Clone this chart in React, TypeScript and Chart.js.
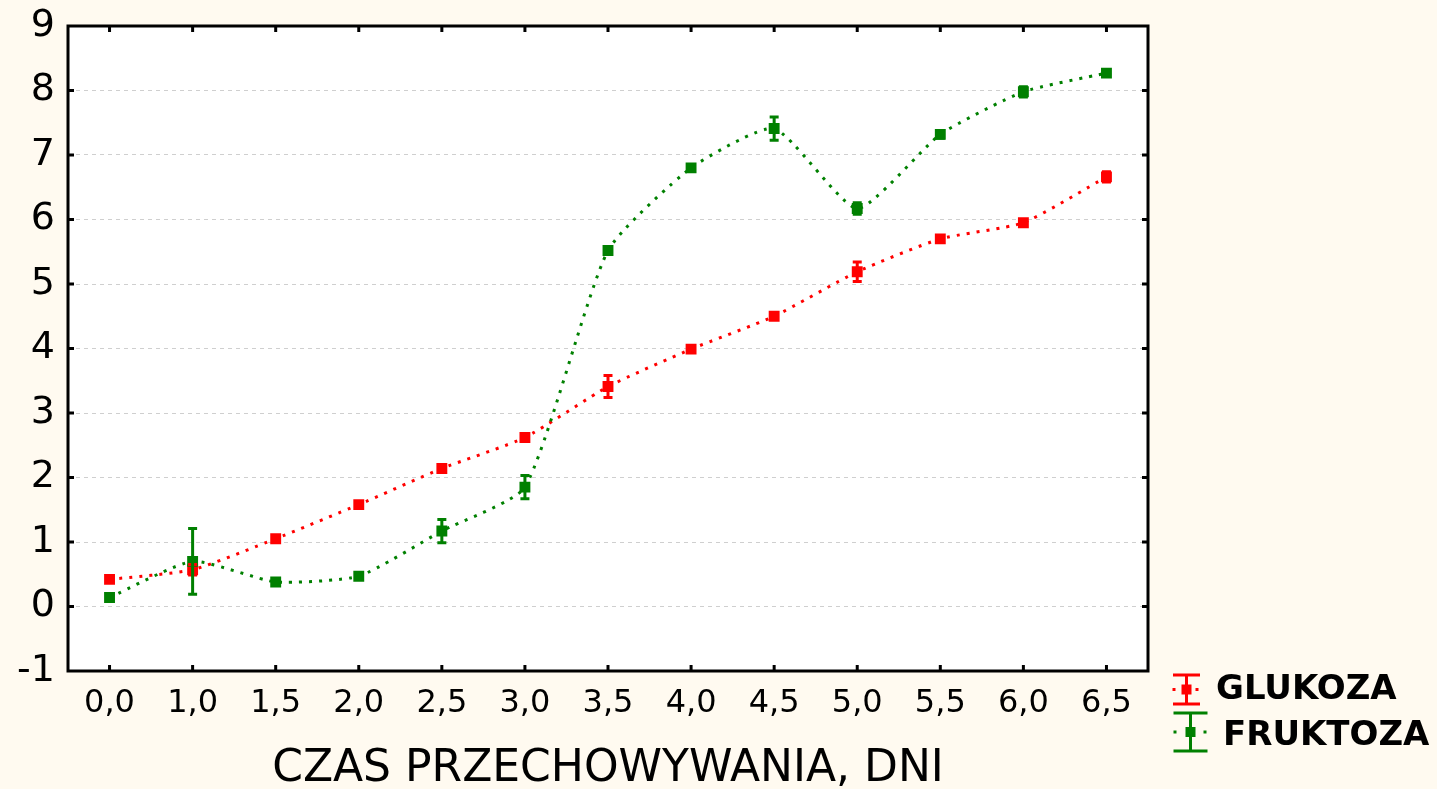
import { useEffect, useRef } from "react";
import { Chart, registerables } from "chart.js";

Chart.register(...registerables);

const categories = ["0,0", "1,0", "1,5", "2,0", "2,5", "3,0", "3,5", "4,0", "4,5", "5,0", "5,5", "6,0", "6,5"];
const glukoza = [0.42, 0.57, 1.05, 1.58, 2.14, 2.62, 3.41, 3.99, 4.5, 5.19, 5.7, 5.95, 6.66];
const glukozaErr = [0.03, 0.08, 0.03, 0.03, 0.04, 0.04, 0.17, 0.05, 0.05, 0.15, 0.05, 0.05, 0.08];
const fruktoza = [0.14, 0.7, 0.38, 0.47, 1.17, 1.85, 5.52, 6.8, 7.41, 6.17, 7.32, 7.98, 8.27];
const fruktozaErr = [0.03, 0.51, 0.03, 0.05, 0.18, 0.18, 0.05, 0.05, 0.18, 0.09, 0.06, 0.08, 0.05];
const yMin = -1;
const yMax = 9;
const yStep = 1;
const xTitle = "CZAS PRZECHOWYWANIA, DNI";
const seriesNames = ["GLUKOZA", "FRUKTOZA"];

const RED = "#FF0000";
const GREEN = "#008000";
const BG = "#FFFAF0";
const FONT = "'DejaVu Sans', 'Liberation Sans', Arial, sans-serif";

const bgPlugin = {
  id: "bgPlugin",
  beforeDraw(chart: any) {
    const { ctx, width, height, chartArea } = chart;
    ctx.save();
    ctx.fillStyle = BG;
    ctx.fillRect(0, 0, width, height);
    ctx.fillStyle = "#FFFFFF";
    ctx.fillRect(chartArea.left, chartArea.top, chartArea.right - chartArea.left, chartArea.bottom - chartArea.top);
    ctx.restore();
  },
};

const errorBarPlugin = {
  id: "errorBarPlugin",
  afterDatasetsDraw(chart: any) {
    const { ctx } = chart;
    const xs = chart.scales.x;
    const ys = chart.scales.y;
    const sets = [
      { vals: glukoza, errs: glukozaErr, color: RED },
      { vals: fruktoza, errs: fruktozaErr, color: GREEN },
    ];
    ctx.save();
    sets.forEach((s) => {
      ctx.strokeStyle = s.color;
      ctx.lineWidth = 3;
      s.vals.forEach((v, i) => {
        const x = xs.getPixelForValue(i);
        const yt = ys.getPixelForValue(v + s.errs[i]);
        const yb = ys.getPixelForValue(v - s.errs[i]);
        ctx.beginPath();
        ctx.moveTo(x, yt);
        ctx.lineTo(x, yb);
        ctx.moveTo(x - 4.5, yt);
        ctx.lineTo(x + 4.5, yt);
        ctx.moveTo(x - 4.5, yb);
        ctx.lineTo(x + 4.5, yb);
        ctx.stroke();
      });
    });
    ctx.restore();
  },
};

const framePlugin = {
  id: "framePlugin",
  afterDraw(chart: any) {
    const { ctx, chartArea } = chart;
    const { left, right, top, bottom } = chartArea;
    const xs = chart.scales.x;
    const ys = chart.scales.y;
    ctx.save();
    ctx.strokeStyle = "#000000";
    ctx.lineWidth = 3;
    ctx.strokeRect(left, top, right - left, bottom - top);
    ctx.beginPath();
    const tl = 6;
    categories.forEach((_, i) => {
      const x = xs.getPixelForValue(i);
      ctx.moveTo(x, top);
      ctx.lineTo(x, top + tl);
      ctx.moveTo(x, bottom);
      ctx.lineTo(x, bottom - tl);
    });
    for (let v = yMin + 1; v < yMax; v += yStep) {
      const y = ys.getPixelForValue(v);
      ctx.moveTo(left, y);
      ctx.lineTo(left + tl, y);
      ctx.moveTo(right, y);
      ctx.lineTo(right - tl, y);
    }
    ctx.stroke();

    // legend
    const items = [
      { name: seriesNames[0], color: RED, cx: 1186.5, yt: 675, yb: 704, half: 13.5, tx: 1216, base: 699, dotL: 1174, dotR: 1197 },
      { name: seriesNames[1], color: GREEN, cx: 1190.5, yt: 713, yb: 751, half: 17, tx: 1223, base: 745, dotL: 1175, dotR: 1205 },
    ];
    items.forEach((it) => {
      ctx.strokeStyle = it.color;
      ctx.fillStyle = it.color;
      ctx.lineWidth = 3;
      ctx.beginPath();
      ctx.moveTo(it.cx, it.yt);
      ctx.lineTo(it.cx, it.yb);
      ctx.moveTo(it.cx - it.half, it.yt);
      ctx.lineTo(it.cx + it.half, it.yt);
      ctx.moveTo(it.cx - it.half, it.yb);
      ctx.lineTo(it.cx + it.half, it.yb);
      ctx.stroke();
      const cy = (it.yt + it.yb) / 2;
      ctx.fillRect(it.cx - 5, cy - 5, 10, 10);
      ctx.fillRect(it.dotL - 1.5, cy - 1.5, 3, 3);
      ctx.fillRect(it.dotR - 1.5, cy - 1.5, 3, 3);
      ctx.fillStyle = "#000000";
      ctx.font = `bold 34px ${FONT}`;
      ctx.textAlign = "left";
      ctx.textBaseline = "alphabetic";
      ctx.fillText(it.name, it.tx, it.base);
    });
    ctx.restore();
  },
};

export default function App() {
  const ref = useRef<HTMLCanvasElement | null>(null);

  useEffect(() => {
    document.body.style.margin = "0";
    const canvas = ref.current;
    if (!canvas) return;
    const chart = new Chart(canvas, {
      type: "line",
      data: {
        labels: categories,
        datasets: [
          {
            label: seriesNames[0],
            data: glukoza,
            borderColor: RED,
            backgroundColor: RED,
            borderWidth: 3,
            borderDash: [3, 7],
            tension: 0.18,
            pointStyle: "rect",
            pointRadius: 7.7,
            pointBorderWidth: 0,
            pointBackgroundColor: RED,
            fill: false,
            order: 1,
          },
          {
            label: seriesNames[1],
            data: fruktoza,
            borderColor: GREEN,
            backgroundColor: GREEN,
            borderWidth: 3,
            borderDash: [3, 7],
            tension: 0.18,
            pointStyle: "rect",
            pointRadius: 7.7,
            pointBorderWidth: 0,
            pointBackgroundColor: GREEN,
            fill: false,
            order: 0,
          },
        ],
      },
      options: {
        responsive: false,
        animation: false,
        events: [],
        layout: { padding: { left: 0, top: 26, right: 289, bottom: 0 } },
        plugins: {
          legend: { display: false },
          tooltip: { enabled: false },
        },
        scales: {
          x: {
            type: "category",
            offset: true,
            grid: { display: false, drawTicks: false },
            border: { display: false },
            ticks: {
              color: "#000000",
              font: { family: FONT, size: 32, lineHeight: 1.2 },
              padding: 13,
              maxRotation: 0,
              autoSkip: false,
            },
            title: {
              display: true,
              text: xTitle,
              color: "#000000",
              font: { family: FONT, size: 44, lineHeight: 0.9 },
              padding: { top: 0, bottom: 0 },
            },
            afterFit(scale: any) {
              scale.height = 118;
            },
          },
          y: {
            min: yMin,
            max: yMax,
            grid: { color: "#CFCFCF", lineWidth: 1, drawTicks: false },
            border: { display: false, dash: [4, 4] },
            ticks: {
              stepSize: yStep,
              color: "#000000",
              font: { family: FONT, size: 38, lineHeight: 1.0 },
              padding: 13,
            },
            afterFit(scale: any) {
              scale.width = 68;
              scale.paddingTop = 0;
              scale.paddingBottom = 0;
            },
          },
        },
      },
      plugins: [bgPlugin, errorBarPlugin, framePlugin],
    });
    return () => chart.destroy();
  }, []);

  return (
    <div style={{ width: 1437, height: 789 }}>
      <canvas ref={ref} width={1437} height={789} style={{ display: "block" }} />
    </div>
  );
}
